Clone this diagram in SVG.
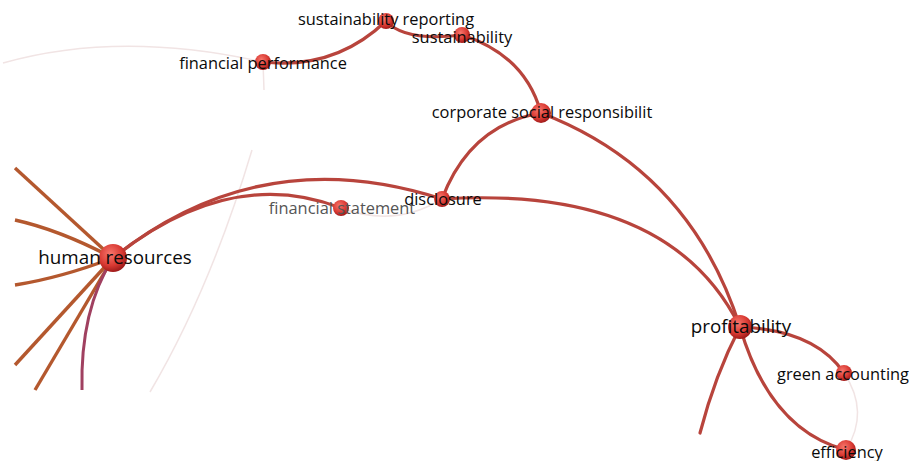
<svg xmlns="http://www.w3.org/2000/svg" width="909" height="461" viewBox="0 0 909 461">
<defs>
<radialGradient id="ng" cx="0.4" cy="0.35" r="0.7">
<stop offset="0" stop-color="#f7766c"/>
<stop offset="0.6" stop-color="#d93a33"/>
<stop offset="1" stop-color="#951515"/>
</radialGradient>
<style>
.e{fill:none;stroke:#b8443c;stroke-width:3.2;stroke-linecap:round}
.eo{fill:none;stroke:#b4582e;stroke-width:3.4}
.ef{fill:none;stroke:#f1e4e4;stroke-width:1.5}
.n{fill:url(#ng)}
text{font-family:"Open Sans","Noto Sans","Liberation Sans",sans-serif;fill:#0a0a0a;text-anchor:middle;dominant-baseline:central}
.s{font-size:16.4px}
.l{font-size:18.8px}
</style>
</defs>
<rect width="909" height="461" fill="#fff"/>
<g id="connectors">
<path class="ef" d="M3,63 Q120,30 263,62"/>
<path class="ef" d="M263,62 L264,90"/>
<path class="ef" d="M252,150 Q210,290 150,392"/>
<path class="ef" d="M341,208 Q395,228 442,199"/>
<path class="ef" d="M844,373 Q870,412 846,450"/>
<path class="eo" d="M113,258 L15,168"/>
<path class="eo" d="M113,258 Q60,230 15,220"/>
<path class="eo" d="M113,258 Q60,278 15,285"/>
<path class="eo" d="M113,258 L15,365"/>
<path class="eo" d="M113,258 L35,390"/>
<path fill="none" stroke="#a04060" stroke-width="3" d="M113,258 Q80,310 82,390"/>
<path class="e" d="M263,62 Q335,70 386,21"/>
<path class="e" d="M386,21 Q405,42 462,35"/>
<path class="e" d="M462,35 Q525,55 541,113"/>
<path class="e" d="M541,113 Q470,125 442,199"/>
<path class="e" d="M541,113 Q690,170 740,327"/>
<path class="e" d="M113,258 Q260,140 442,199"/>
<path class="e" d="M113,258 Q230,165 341,208"/>
<path class="e" d="M442,199 Q670,185 740,327"/>
<path class="e" d="M740,327 Q815,330 844,373"/>
<path class="e" d="M740,327 Q770,430 846,450"/>
<path class="e" d="M740,327 Q715,375 700,433"/>
</g>
<g id="financial-performance"><circle class="n" cx="263" cy="62" r="8"/><text class="s" x="263" y="62">financial performance</text></g>
<g id="sustainability-reporting"><circle class="n" cx="386" cy="21" r="8"/><text class="s" x="386" y="18">sustainability reporting</text></g>
<g id="sustainability"><circle class="n" cx="462" cy="35" r="8"/><text class="s" x="462" y="36">sustainability</text></g>
<g id="csr"><circle class="n" cx="541" cy="113" r="10"/><text class="s" x="542" y="111">corporate social responsibilit</text></g>
<g id="human-resources"><circle class="n" cx="113" cy="258" r="14"/><text class="l" x="115" y="257">human resources</text></g>
<g id="financial-statement"><circle class="n" cx="341" cy="208" r="8"/><text class="s" x="342" y="207" style="fill:#555">financial statement</text></g>
<g id="disclosure"><circle class="n" cx="442" cy="199" r="8"/><text class="s" x="443" y="198">disclosure</text></g>
<g id="profitability"><circle class="n" cx="740" cy="327" r="12"/><text class="l" x="741" y="326">profitability</text></g>
<g id="green-accounting"><circle class="n" cx="844" cy="373" r="8"/><text class="s" x="843" y="373">green accounting</text></g>
<g id="efficiency"><circle class="n" cx="846" cy="450" r="10"/><text class="s" x="847" y="451">efficiency</text></g>
</svg>
